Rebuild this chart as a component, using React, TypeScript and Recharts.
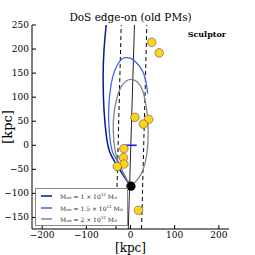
import { ComposedChart, Line, Scatter, XAxis, YAxis, ReferenceLine, Legend } from 'recharts';

const xTicks = [-200, -100, 0, 100, 200];
const yTicks = [-150, -100, -50, 0, 50, 100, 150, 200, 250];

// orbits for the three MW masses
const orbit1X = [-53, -55, -60, -62, -60, -55, -47, -31, -14, 1];
const orbit1Y = [265, 250, 198, 136, 74, 22, -14, -41, -66, -85];
const orbit15X = [1, -14, -28, -42, -49, -49, -44, -35, -23, -12, 2, 16, 28, 35, 39];
const orbit15Y = [-85, -62, -35, -10, 42, 84, 126, 157, 176, 182, 180, 169, 153, 132, 108];
const orbit2X = [1, -12, -25, -35, -39, -37, -30, -21, -9, 1, 15, 27, 33, 38, 40, 38, 33, 24, 13, 1];
const orbit2Y = [-85, -66, -41, -10, 32, 69, 101, 122, 134, 137, 132, 115, 94, 63, 22, -10, -37, -60, -74, -85];

// satellites
const satX = [48, 65, 10, 41, 29, -15, -16, -15, -30, 18];
const satY = [214, 192, 58, 54, 44, -7, -26, -39, -44, -135];

const sculptorX = [1];
const sculptorY = [-85];

// straight lines: [x0, y0, x1, y1]
const planeLine = [-5, -174, 9, 250];
const dashLeft = [-33, -174, -21, 250];
const dashRight = [25, -174, 37, 250];
const disk = [-12, 0, 14, 0];

const masses = ['1', '1.5', '2'];
const colors = ['#0a1a8a', '#4169e1', '#778899'];

const toPts = (xs: number[], ys: number[]) => xs.map((x, i) => ({ x, y: ys[i] }));
const seg = (a: number[]) => [{ x: a[0], y: a[1] }, { x: a[2], y: a[3] }];

const fmt = (v: number) => (v < 0 ? '\u2212' + Math.abs(v) : String(v));
const font = 'DejaVu Serif';

const BottomTick = (p: any) => (
  <g>
    <line x1={p.x} x2={p.x} y1={p.y} y2={p.y - 4} stroke="#000" />
    <text x={p.x} y={p.y + 9} textAnchor="middle" fontSize={9} fontFamily={font}>{fmt(p.payload.value)}</text>
  </g>
);
const LeftTick = (p: any) => (
  <g>
    <line x1={p.x} x2={p.x + 4} y1={p.y} y2={p.y} stroke="#000" />
    <text x={p.x - 3} y={p.y + 3} textAnchor="end" fontSize={9} fontFamily={font}>{fmt(p.payload.value)}</text>
  </g>
);
const TopTick = (p: any) => <line x1={p.x} x2={p.x} y1={p.y} y2={p.y + 4} stroke="#000" />;
const RightTick = (p: any) => <line x1={p.x} x2={p.x - 4} y1={p.y} y2={p.y} stroke="#000" />;

const LegendBox = () => (
  <div style={{ width: 93, height: 38, border: '1px solid #888', background: '#fff', fontFamily: font, fontSize: 6, color: '#222', boxSizing: 'border-box', paddingTop: 1, textAlign: 'left' }}>
    {masses.map((m, i) => (
      <div key={m} style={{ display: 'flex', alignItems: 'center', height: 11.7 }}>
        <svg width={19} height={4} style={{ marginLeft: 5 }}>
          <line x1={0} x2={11} y1={2} y2={2} stroke={colors[i]} strokeWidth={1.5} />
        </svg>
        <span style={{ whiteSpace: 'nowrap' }}>
          M<span style={{ fontSize: 4 }}>vir</span> = {m} × 10<sup style={{ fontSize: 4 }}>12</sup> M<span style={{ fontSize: 4 }}>⊙</span>
        </span>
      </div>
    ))}
  </div>
);

export default function App() {
  return (
    <div style={{ position: 'absolute', left: 0, top: 0, width: 255, height: 255, background: '#fff' }}>
      <ComposedChart width={255} height={255} margin={{ top: 25, right: 26, left: 0, bottom: 0 }}>
        <XAxis xAxisId={0} dataKey="x" type="number" domain={[-223, 223]} allowDataOverflow ticks={xTicks}
          height={26} tickSize={0} tickMargin={0} tick={<BottomTick />} axisLine={{ stroke: '#000' }} tickLine={false} />
        <XAxis xAxisId="top" orientation="top" dataKey="x" type="number" domain={[-223, 223]} allowDataOverflow ticks={xTicks}
          height={0} tickSize={0} tickMargin={0} tick={<TopTick />} axisLine={{ stroke: '#000' }} tickLine={false} />
        <YAxis yAxisId={0} dataKey="y" type="number" domain={[-174, 250]} allowDataOverflow ticks={yTicks}
          width={32} tickSize={0} tickMargin={0} tick={<LeftTick />} axisLine={{ stroke: '#000' }} tickLine={false} />
        <YAxis yAxisId="right" orientation="right" dataKey="y" type="number" domain={[-174, 250]} allowDataOverflow ticks={yTicks}
          width={0} tickSize={0} tickMargin={0} tick={<RightTick />} axisLine={{ stroke: '#000' }} tickLine={false} />

        <ReferenceLine segment={seg(dashLeft)} stroke="#000" strokeDasharray="4 3" ifOverflow="hidden" />
        <ReferenceLine segment={seg(dashRight)} stroke="#000" strokeDasharray="4 3" ifOverflow="hidden" />
        <ReferenceLine segment={seg(planeLine)} stroke="#222" strokeWidth={1} ifOverflow="hidden" />
        <ReferenceLine segment={seg(disk)} stroke="#1010ff" strokeWidth={1.5} ifOverflow="hidden" />

        <Line data={toPts(orbit1X, orbit1Y)} dataKey="y" type="natural" stroke={colors[0]} strokeWidth={1.5} dot={false} isAnimationActive={false} legendType="none" />
        <Line data={toPts(orbit15X, orbit15Y)} dataKey="y" type="natural" stroke={colors[1]} strokeWidth={1.3} dot={false} isAnimationActive={false} legendType="none" />
        <Line data={toPts(orbit2X, orbit2Y)} dataKey="y" type="natural" stroke={colors[2]} strokeWidth={1.3} dot={false} isAnimationActive={false} legendType="none" />

        <Scatter data={toPts(satX, satY)} dataKey="y" fill="#ffd11a" stroke="#555" strokeWidth={0.6}
          shape={(p: any) => <circle cx={p.cx} cy={p.cy} r={4.3} fill="#ffd11a" stroke="#555" strokeWidth={0.6} />} isAnimationActive={false} />
        <Scatter data={toPts(sculptorX, sculptorY)} dataKey="y"
          shape={(p: any) => <circle cx={p.cx} cy={p.cy} r={4.6} fill="#000" />} isAnimationActive={false} />

        <Legend layout="horizontal" verticalAlign="middle" align="center" content={<LegendBox />}
          wrapperStyle={{ position: 'absolute', left: 35, top: 188, width: 93, height: 38 }} />
      </ComposedChart>
      <svg width={255} height={255} style={{ position: 'absolute', left: 0, top: 0, pointerEvents: 'none' }}>
        <text x={130.5} y={21} textAnchor="middle" fontSize={10.5} fontFamily={font}>DoS edge-on (old PMs)</text>
        <text x={226} y={37} textAnchor="end" fontSize={8} fontWeight="bold" fontFamily={font}>Sculptor</text>
        <text x={130.5} y={252} textAnchor="middle" fontSize={12} fontFamily={font}>[kpc]</text>
        <text x={0} y={0} transform="translate(12,127) rotate(-90)" textAnchor="middle" fontSize={13} fontFamily={font}>[kpc]</text>
      </svg>
    </div>
  );
}
